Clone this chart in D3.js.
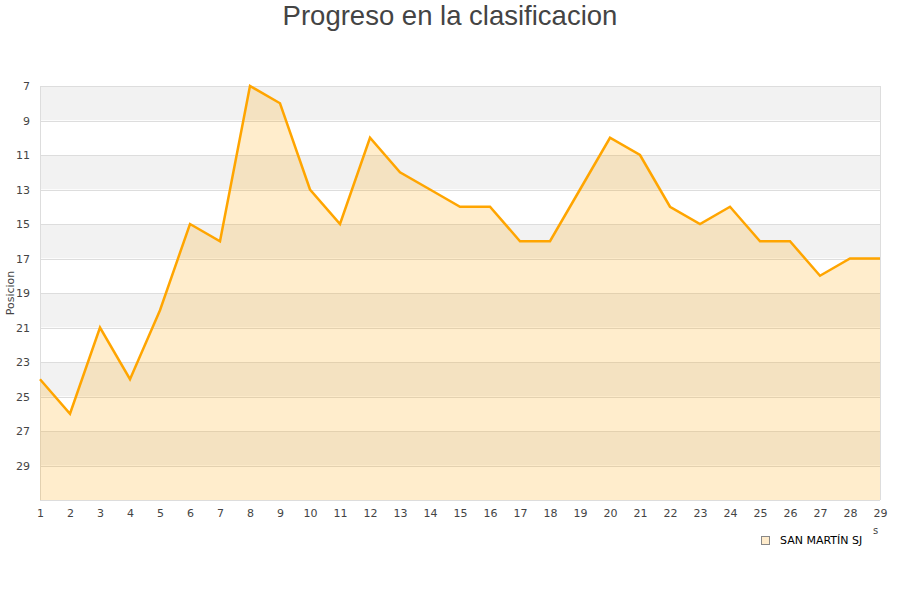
<!DOCTYPE html>
<html><head><meta charset="utf-8">
<script src="https://cdn.jsdelivr.net/npm/d3@7"></script>
<style>body{margin:0;background:#fff}svg{display:block}</style>
</head><body>
<script>
const title = "Progreso en la clasificacion";
const yTitle = "Posicion";
const xTitle = "Jornadas";
const seriesName = "SAN MARTÍN SJ";
const jornadas = d3.range(1, 30);
const posiciones = [24,26,21,24,20,15,16,7,8,13,15,10,12,13,14,14,16,16,13,10,11,14,15,14,16,16,18,17,17];
const yTicks = [7,9,11,13,15,17,19,21,23,25,27,29];

const W = 900, H = 600;
const m = {l:40, r:20, t:86, b:100};
const svg = d3.select("body").append("svg").attr("width", W).attr("height", H);
const x = d3.scaleLinear().domain([1, 29]).range([m.l, W - m.r]);
const y = d3.scaleLinear().domain([7, 31]).range([m.t, H - m.b]);

// bands
const bands = d3.range(7, 31, 2);
svg.selectAll("rect.band").data(bands).enter().append("rect")
  .attr("x", m.l).attr("width", W - m.r - m.l)
  .attr("y", d => y(d)).attr("height", d => y(d + 2) - y(d))
  .attr("fill", (d, i) => i % 2 === 0 ? "#f2f2f2" : "#ffffff");
// grid lines
svg.selectAll("line.grid").data(d3.range(7, 32, 2)).enter().append("line")
  .attr("x1", m.l).attr("x2", W - m.r)
  .attr("y1", d => Math.round(y(d)) + 0.5).attr("y2", d => Math.round(y(d)) + 0.5)
  .attr("stroke", "#dddddd");
// vertical borders
[m.l, W - m.r].forEach(px => svg.append("line").attr("x1", px + 0.5).attr("x2", px + 0.5)
  .attr("y1", m.t).attr("y2", H - m.b).attr("stroke", "#dddddd"));

const data = jornadas.map((j, i) => ({j, p: posiciones[i]}));
svg.append("path").datum(data)
  .attr("d", d3.area().x(d => x(d.j)).y0(y(31)).y1(d => y(d.p)))
  .attr("fill", "rgba(255,165,0,0.2)");
svg.append("path").datum(data)
  .attr("d", d3.line().x(d => x(d.j)).y(d => y(d.p)))
  .attr("fill", "none").attr("stroke", "#ffa500").attr("stroke-width", 2.5)
  .attr("stroke-linejoin", "miter");

// y axis labels
const yAxis = d3.axisLeft(y).tickValues(yTicks).tickSize(0).tickPadding(10);
const gy = svg.append("g").attr("transform", `translate(${m.l},0)`).call(yAxis);
gy.select(".domain").remove();
gy.selectAll("text").attr("font-family", "DejaVu Sans").attr("font-size", 11).attr("fill", "#444");

const xAxis = d3.axisBottom(x).tickValues(jornadas).tickSize(0).tickPadding(9).tickFormat(d3.format("d"));
const gx = svg.append("g").attr("transform", `translate(0,${H - m.b})`).call(xAxis);
gx.select(".domain").remove();
gx.selectAll("text").attr("font-family", "DejaVu Sans").attr("font-size", 11).attr("fill", "#444");

svg.append("text").attr("x", W / 2).attr("y", 25).attr("text-anchor", "middle")
  .attr("font-family", "Liberation Sans, Arial").attr("font-size", 27.5).attr("fill", "#444").text(title);

svg.append("text").attr("transform", `translate(14,${(m.t + H - m.b) / 2}) rotate(-90)`)
  .attr("text-anchor", "middle").attr("font-family", "DejaVu Sans").attr("font-size", 11)
  .attr("fill", "#444").text(yTitle);

// clipped x title remnant
svg.append("text").attr("x", 873).attr("y", 534).attr("font-family", "DejaVu Sans")
  .attr("font-size", 10).attr("fill", "#444").text("s");

// legend
svg.append("rect").attr("x", 761.5).attr("y", 536.5).attr("width", 8).attr("height", 8)
  .attr("fill", "#ffeccc").attr("stroke", "#888");
svg.append("text").attr("x", 780).attr("y", 544).attr("font-family", "DejaVu Sans")
  .attr("font-size", 11).attr("fill", "#000").text(seriesName);
</script>
</body></html>
